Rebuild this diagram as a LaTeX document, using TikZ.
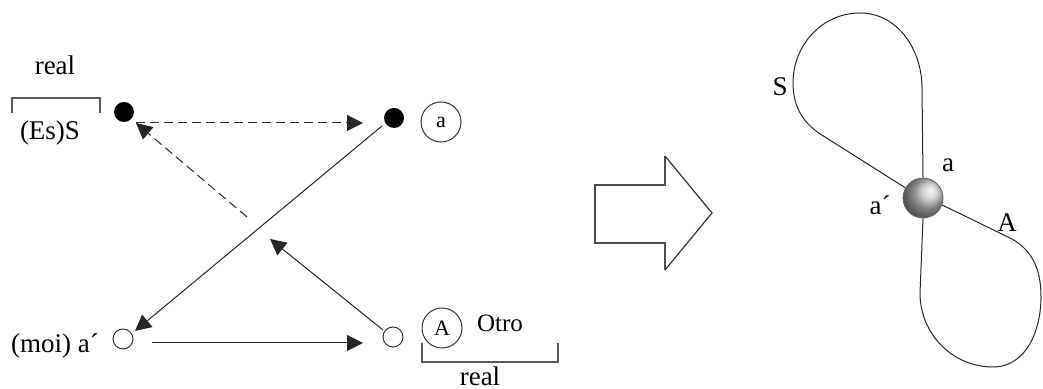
\documentclass[tikz,border=0pt]{standalone}
\usepackage{fontspec}
\setmainfont{Liberation Serif}
\usetikzlibrary{arrows.meta}
\begin{document}
\begin{tikzpicture}[x=0.5pt,y=0.5pt,
  lbl/.style={font=\fontsize{13.5}{15}\selectfont, inner sep=0pt},
  inlbl/.style={font=\fontsize{11}{13}\selectfont},
  fulldot/.style={circle, fill=black, minimum size=10pt, inner sep=0pt},
  opendot/.style={circle, draw=black!80, line width=0.5pt, minimum size=10pt, inner sep=0pt},
  ring/.style={circle, draw=black!80, line width=0.5pt, minimum size=20pt, inner sep=0pt, inlbl},
  link/.style={line width=0.5pt, draw=black!85, -{Triangle[length=8pt,width=8pt]}},
  dlink/.style={link, dash pattern=on 4.5pt off 2.5pt},
  bracket/.style={line width=1pt, draw=black!65},
  bigarrow/.style={line width=1pt, draw=black!70},
  curve/.style={line width=0.5pt, draw=black!85},
]
\useasboundingbox (0,0) rectangle (1043,389);

% ---- schema: four places ----
\node[fulldot] (S) at (124,277) {};
\node[fulldot] (a) at (394,271) {};
\node[opendot] (moi) at (123,50) {};
\node[opendot] (otro) at (393,52) {};
\node[ring] (ca) at (441,267) {a};
\node[ring] (cA) at (442,61) {A};

% ---- texts ----
\node[lbl, anchor=base] (realtop) at (55,314) {real};
\node[lbl, anchor=base] (EsS) at (50,249) {(Es)S};
\node[lbl, anchor=base] (moitxt) at (55,36) {(moi) a\char"00B4};
\node[lbl, anchor=base, font=\fontsize{12.5}{14}\selectfont] (Otro) at (500,57) {Otro};
\node[lbl, anchor=base] (realbot) at (480,3) {real};

% ---- brackets ----
\draw[bracket] (12,276) -- (12,291) -- (100,291) -- (100,276);
\draw[bracket] (422,46) -- (422,27) -- (558,27) -- (558,46);

% ---- connector end points ----
\coordinate (Stip) at (136,266);
\coordinate (atip) at (363,266);
\coordinate (dstart) at (247,172);
\coordinate (otip) at (270,150);
\coordinate (ostart) at (383,59);
\coordinate (astart) at (382,263);
\coordinate (mtip) at (135,58);
\coordinate (mstart) at (152,46);
\coordinate (btip) at (363,46);

% ---- connectors ----
\draw[dlink] (Stip) -- (atip);
\draw[dlink] (dstart) -- (Stip);
\draw[link] (ostart) -- (otip);
\draw[link] (astart) -- (mtip);
\draw[link] (mstart) -- (btip);

% ---- block arrow ----
\draw[bigarrow] (665,233) -- (665,204) -- (595,204) -- (595,146) -- (665,146) -- (665,119);
\draw[line width=0.6pt, draw=black!80] (665,119) -- (712,176) -- (665,233);

% ---- figure eight round the ball ----
\node[circle, minimum size=20pt, inner sep=0pt, ball color=gray!45, shading angle=-90, draw=black!60, line width=0.4pt] (ball) at (923,191) {};
\draw[curve] (ball.north) -- (922,301) to[out=90,in=0] (860,376)
   to[out=180,in=90] (793,306) to[out=-90,in=150] (825,252) -- (ball.150);
\draw[curve] (ball.south) -- (920,96) to[out=-90,in=180] (993,22)
   to[out=0,in=-90] (1041,92) to[out=90,in=-30] (1012,150) -- (ball.-20);

\node[lbl] (Sr) at (780,302) {S};
\node[lbl] (ar) at (948,224) {a};
\node[lbl] (Ar) at (1007,166) {A};
\node[lbl] (apr) at (880,184) {a\char"00B4};
\end{tikzpicture}
\end{document}
